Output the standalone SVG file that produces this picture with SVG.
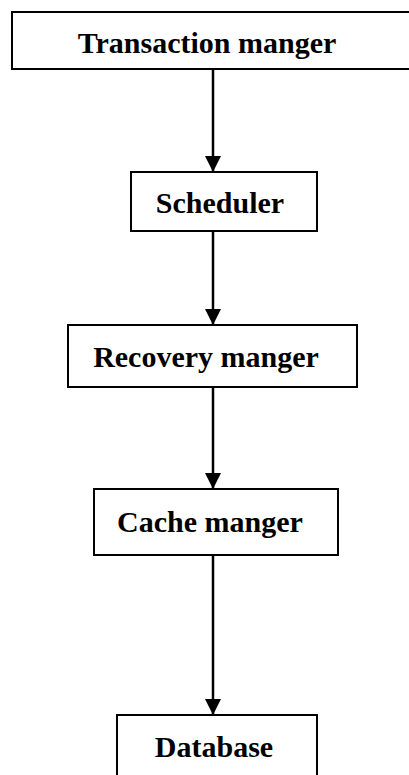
<svg xmlns="http://www.w3.org/2000/svg" width="409" height="775" viewBox="0 0 409 775">
<defs>
<style>
.box{fill:#fff;stroke:#000;stroke-width:2}
.lbl{font-family:"Liberation Serif","Times New Roman",serif;font-weight:bold;font-size:30px;fill:#000;text-anchor:middle}
.conn{stroke:#000;stroke-width:2.5;fill:none}
</style>
<marker id="ah" markerUnits="userSpaceOnUse" markerWidth="16" markerHeight="17" refX="16" refY="8" orient="auto">
<path d="M0,0 L16,8 L0,16 Z" fill="#000"/>
</marker>
</defs>
<g id="connectors">
<line class="conn" x1="213" y1="69" x2="213" y2="172" marker-end="url(#ah)"/>
<line class="conn" x1="213" y1="231" x2="213" y2="325" marker-end="url(#ah)"/>
<line class="conn" x1="213" y1="387" x2="213" y2="489" marker-end="url(#ah)"/>
<line class="conn" x1="213" y1="555" x2="213" y2="715" marker-end="url(#ah)"/>
</g>
<g id="transaction">
<rect class="box" x="12" y="12" width="400" height="57"/>
<text class="lbl" x="207" y="53">Transaction manger</text>
</g>
<g id="scheduler">
<rect class="box" x="131" y="172" width="186" height="59"/>
<text class="lbl" x="220" y="213">Scheduler</text>
</g>
<g id="recovery">
<rect class="box" x="68" y="325" width="289" height="62"/>
<text class="lbl" x="206" y="367">Recovery manger</text>
</g>
<g id="cache">
<rect class="box" x="94" y="489" width="244" height="66"/>
<text class="lbl" x="210" y="532">Cache manger</text>
</g>
<g id="database">
<rect class="box" x="117" y="715" width="200" height="80"/>
<text class="lbl" x="214" y="757">Database</text>
</g>
</svg>
